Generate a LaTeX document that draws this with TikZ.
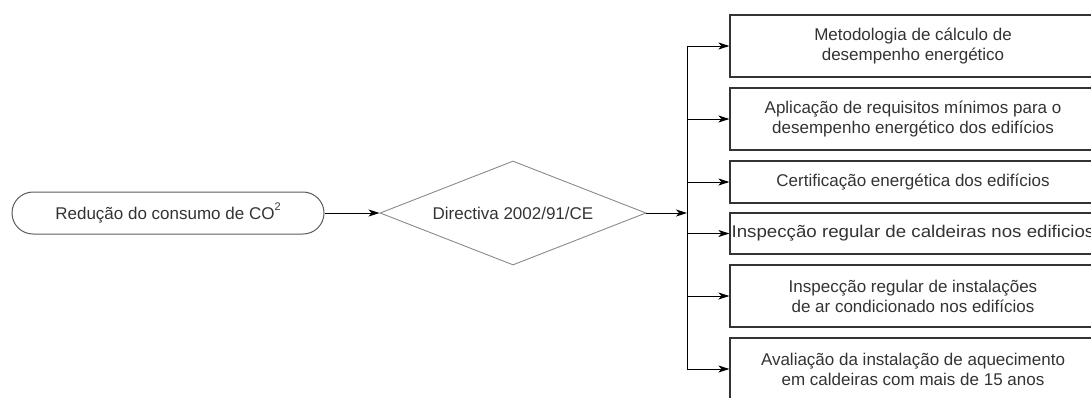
\documentclass[tikz,border=0pt]{standalone}
\usepackage{fontspec}
\setmainfont{Liberation Sans}
\usetikzlibrary{shapes.geometric,arrows.meta}
\definecolor{txt}{HTML}{333333}
\definecolor{edge}{HTML}{333333}
\definecolor{dia}{HTML}{8A8A8A}
\begin{document}
\begin{tikzpicture}[x=1pt,y=-1pt,
  every node/.style={font=\fontsize{17}{20}\selectfont, text=txt, align=center, inner sep=0pt},
  tbox/.style={draw=edge, line width=1.2pt, minimum width=366pt},
  tall/.style={tbox, minimum height=62pt},
  short/.style={tbox, minimum height=42pt},
  conn/.style={line width=1pt, -{Stealth[length=11pt,width=7pt,inset=3pt]}}
]
\useasboundingbox (0,0) rectangle (1091,397);
\clip (0,0) rectangle (1091,397);
\node (start) [draw=edge!80, line width=1pt, rounded corners=21pt, minimum width=312pt, minimum height=42pt] at (168,213) {Redução do consumo de CO\raisebox{0.55em}{\fontsize{11}{11}\selectfont 2}};
\node (dir) [draw=dia, line width=0.9pt, diamond, aspect=2.56, minimum width=266pt, minimum height=104pt] at (513,213) {Directiva 2002/91/CE};
\node (b1) [tall] at (913,46) {Metodologia de cálculo de\\desempenho energético};
\node (b2) [tall] at (913,119) {Aplicação de requisitos mínimos para o\\desempenho energético dos edifícios};
\node (b3) [short] at (913,182) {Certificação energética dos edifícios};
\node (b4) [tbox, minimum height=41pt] at (913,233.5) {\scalebox{1.1}[1]{Inspecção regular de caldeiras nos edificios}};
\node (b5) [tall] at (913,296) {Inspecção regular de instalações\\de ar condicionado nos edifícios};
\node (b6) [tall] at (913,369) {Avaliação da instalação de aquecimento\\em caldeiras com mais de 15 anos};
\coordinate (top) at (687,46);
\coordinate (bot) at (687,369);
\coordinate (mid) at (687,213);
\draw[conn] (start.east) -- (dir.west);
\draw[conn] (dir.east) -- (mid);
\draw[line width=1pt] (top) -- (bot);
\foreach \b in {b1,b2,b3,b4,b5,b6}{
  \draw[conn] (top |- \b.west) -- (\b.west);
}
\end{tikzpicture}
\end{document}
